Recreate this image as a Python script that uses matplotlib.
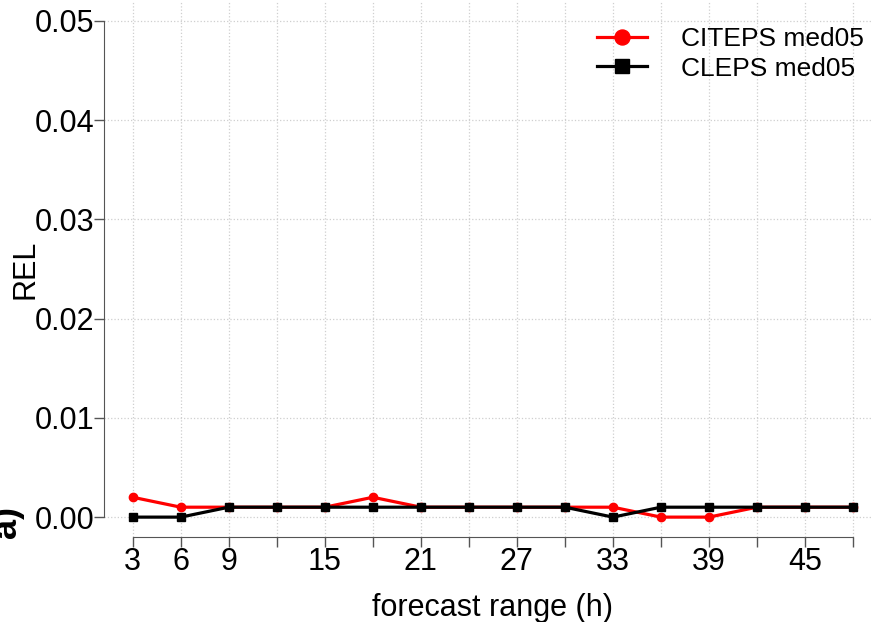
import numpy as np
import matplotlib.pyplot as plt

plt.rcParams['font.family'] = ['Liberation Sans', 'DejaVu Sans']

# forecast range (h) and REL values
hours = [3, 6, 9, 12, 15, 18, 21, 24, 27, 30, 33, 36, 39, 42, 45, 48]
citeps = [0.002, 0.001, 0.001, 0.001, 0.001, 0.002, 0.001, 0.001,
          0.001, 0.001, 0.001, 0.000, 0.000, 0.001, 0.001, 0.001]
cleps = [0.000, 0.000, 0.001, 0.001, 0.001, 0.001, 0.001, 0.001,
         0.001, 0.001, 0.000, 0.001, 0.001, 0.001, 0.001, 0.001]
xtick_labels = ['3', '6', '9', '', '15', '', '21', '', '27', '', '33', '', '39', '', '45', '']
yticks = [0.00, 0.01, 0.02, 0.03, 0.04, 0.05]

fig = plt.figure(figsize=(8.73, 6.22), dpi=100)
ax = fig.add_axes([0.1191, 0.1367, 0.891, 0.8617])

ax.plot(hours, citeps, color='red', lw=2.3, marker='o', ms=6, label='CITEPS med05', zorder=3)
ax.plot(hours, cleps, color='black', lw=2.3, marker='s', ms=5.5, label='CLEPS med05', zorder=4)

ax.set_xlim(1.2, 49.8)
ax.set_ylim(-0.002, 0.052)

ax.set_xticks(hours)
ax.set_xticklabels(xtick_labels)
ax.set_yticks(yticks)
ax.set_yticklabels(['%.2f' % v for v in yticks])

ax.grid(True, color='#cfcfcf', ls=':', lw=0.9)
ax.set_axisbelow(True)

for s in ['top', 'right']:
    ax.spines[s].set_visible(False)
ax.spines['left'].set_bounds(0, 0.05)
ax.spines['bottom'].set_bounds(3, 48)
ax.spines['left'].set_color('#555555')
ax.spines['bottom'].set_color('#555555')
ax.tick_params(axis='both', labelsize=22, length=7, color='#555555', width=1)
ax.tick_params(axis='x', pad=0)
ax.tick_params(axis='y', pad=0)

ax.set_ylabel('REL', fontsize=22)
ax.yaxis.set_label_coords(-0.082, 0.5)
ax.set_xlabel('forecast range (h)', fontsize=22, labelpad=12)

ax.legend(loc='upper right', bbox_to_anchor=(1.008, 0.995), frameon=False, fontsize=19,
          markerscale=1.8, handlelength=1.9, labelspacing=0.2, handletextpad=1.3)

# clipped panel label at the left edge
fig.text(-0.013, 0.16, 'a)', rotation=90, fontsize=26, fontweight='bold',
         ha='left', va='center')

fig.savefig('out.png', dpi=100)
